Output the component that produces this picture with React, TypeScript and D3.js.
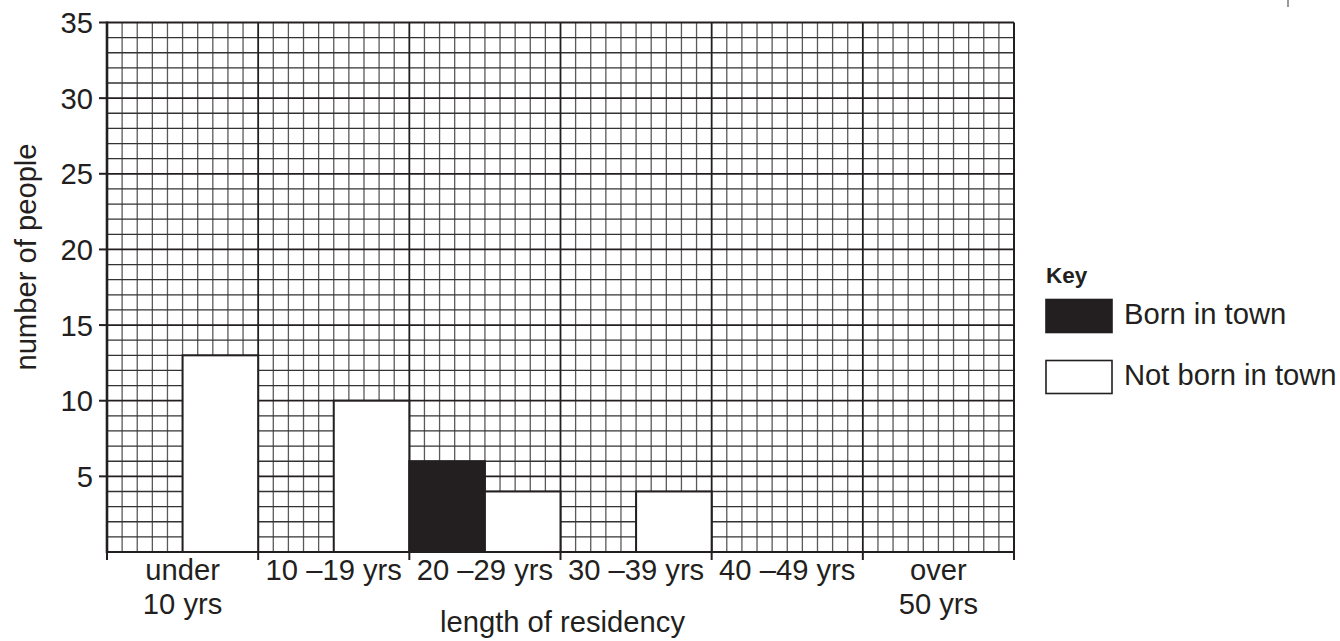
import React from "react";
import * as d3 from "d3";

const categories = ["under\n10 yrs", "10 –19 yrs", "20 –29 yrs", "30 –39 yrs", "40 –49 yrs", "over\n50 yrs"];
const seriesNames = ["Born in town", "Not born in town"];
const bornInTown = [0, 0, 6, 0, 0, 0];
const notBornInTown = [13, 10, 4, 4, 0, 0];
const yTicks = [5, 10, 15, 20, 25, 30, 35];
const yMax = 35;
const yTitle = "number of people";
const xTitle = "length of residency";
const keyTitle = "Key";

const W = 1340;
const H = 641;
const left = 107;
const right = 1014;
const top = 22.5;
const bottom = 552;
const FONT = "'Liberation Sans', Arial, Helvetica, sans-serif";
const FS = 29.2;
const INK = "#231f20";

export default function App() {
  const x = d3.scaleBand<string>().domain(categories).range([left, right]).padding(0);
  const sub = d3.scaleBand<string>().domain(seriesNames).range([0, x.bandwidth()]).padding(0);
  const y = d3.scaleLinear().domain([0, yMax]).range([bottom, top]);
  const cellsPerCat = 10;
  const gx = d3.scaleLinear().domain([0, categories.length * cellsPerCat]).range([left, right]);

  const vLines = d3.range(0, categories.length * cellsPerCat + 1);
  const hLines = d3.range(0, yMax + 1);

  const data = categories.map((c, i) => ({ c, v: [bornInTown[i], notBornInTown[i]] }));

  return (
    <svg width={W} height={H} style={{ position: "absolute", left: 0, top: 0, background: "#fff" }} fontFamily={FONT}>
      <rect x={0} y={0} width={W} height={H} fill="#fff" />
      {/* grid minor */}
      <g>
        {vLines.map((i) =>
          i % cellsPerCat === 0 ? null : (
            <line key={"v" + i} x1={gx(i)} x2={gx(i)} y1={y(0)} y2={y(yMax)} stroke="#5a5a5a" strokeWidth={1.3} />
          )
        )}
        {hLines.map((v) =>
          v % 5 === 0 ? null : (
            <line key={"h" + v} x1={left} x2={right} y1={y(v)} y2={y(v)} stroke="#333" strokeWidth={1.3} />
          )
        )}
      </g>
      {/* grid major */}
      <g>
        {vLines.map((i) =>
          i % cellsPerCat === 0 && i > 0 ? (
            <line key={"V" + i} x1={gx(i)} x2={gx(i)} y1={y(0)} y2={y(yMax)} stroke={INK} strokeWidth={i === vLines.length - 1 ? 2 : 1.8} />
          ) : null
        )}
        {hLines.map((v) =>
          v % 5 === 0 && v > 0 ? (
            <line key={"H" + v} x1={left} x2={right} y1={y(v)} y2={y(v)} stroke={INK} strokeWidth={v === yMax ? 2 : 1.8} />
          ) : null
        )}
      </g>
      {/* bars */}
      <g>
        {data.map((d) =>
          d.v.map((val, j) =>
            val > 0 ? (
              <rect
                key={d.c + j}
                x={(x(d.c) as number) + (sub(seriesNames[j]) as number)}
                y={y(val)}
                width={sub.bandwidth()}
                height={y(0) - y(val)}
                fill={j === 0 ? INK : "#fff"}
                stroke={INK}
                strokeWidth={2}
              />
            ) : null
          )
        )}
      </g>
      {/* axes */}
      <line x1={left} x2={left} y1={y(yMax) - 1} y2={y(0) + 1} stroke={INK} strokeWidth={2.6} />
      <line x1={left} x2={right} y1={y(0)} y2={y(0)} stroke={INK} strokeWidth={2.2} />
      {yTicks.map((t) => (
        <g key={"yt" + t}>
          <line x1={left - 8} x2={left} y1={y(t)} y2={y(t)} stroke={INK} strokeWidth={2} />
          <text x={left - 14} y={y(t)} dy="0.36em" textAnchor="end" fontSize={FS} fill={INK}>
            {t}
          </text>
        </g>
      ))}
      {d3.range(0, categories.length + 1).map((i) => (
        <line key={"xt" + i} x1={gx(i * cellsPerCat)} x2={gx(i * cellsPerCat)} y1={y(0)} y2={y(0) + 8} stroke={INK} strokeWidth={2} />
      ))}
      {categories.map((c) => {
        const lines = c.split("\n");
        const cx = (x(c) as number) + x.bandwidth() / 2;
        return (
          <text key={"xl" + c} x={cx} y={580} textAnchor="middle" fontSize={FS} fill={INK}>
            {lines.map((ln, k) => (
              <tspan key={k} x={cx} dy={k === 0 ? 0 : 34}>
                {ln}
              </tspan>
            ))}
          </text>
        );
      })}
      <text x={(left + right) / 2 + 2} y={632} textAnchor="middle" fontSize={FS} fill={INK}>
        {xTitle}
      </text>
      <text transform={`translate(36, 257) rotate(-90)`} textAnchor="middle" fontSize={FS} fill={INK}>
        {yTitle}
      </text>
      {/* legend */}
      <text x={1046} y={283} fontSize={22.5} fontWeight="bold" fill={INK}>
        {keyTitle}
      </text>
      {seriesNames.map((s, j) => (
        <g key={"lg" + s}>
          <rect x={1046} y={299.5 + j * 61} width={66} height={33} fill={j === 0 ? INK : "#fff"} stroke={INK} strokeWidth={1.6} />
          <text x={1124} y={323.5 + j * 61} fontSize={FS} fill={INK}>
            {s}
          </text>
        </g>
      ))}
      <line x1={1288} x2={1288} y1={0} y2={7} stroke="#555" strokeWidth={1.2} />
    </svg>
  );
}
